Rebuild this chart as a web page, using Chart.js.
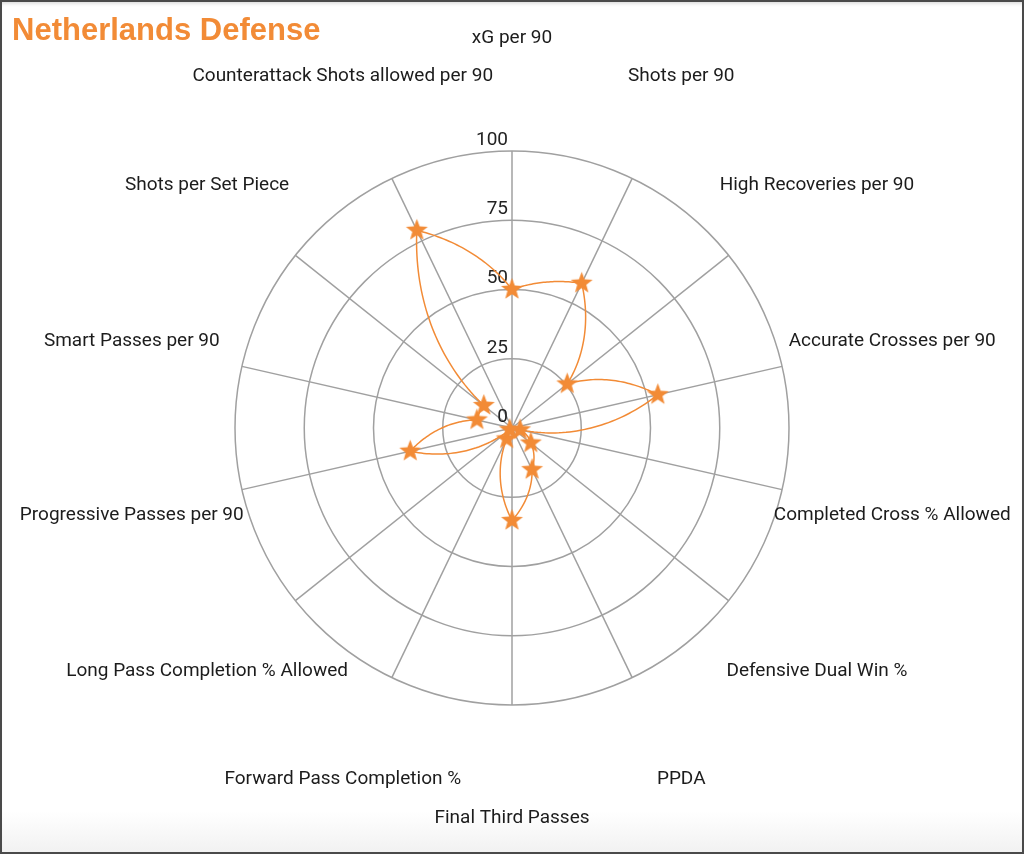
<!DOCTYPE html>
<html>
<head>
<meta charset="utf-8">
<title>Netherlands Defense</title>
<script src="https://cdn.jsdelivr.net/npm/chart.js@4.4.1/dist/chart.umd.min.js"></script>
<style>
  html, body { margin: 0; padding: 0; background: #fff; overflow: hidden; }
  #wrap {
    position: relative;
    width: 1024px;
    height: 854px;
    background: linear-gradient(to bottom, #fff 0, #fff 95%, #f1f1f1 100%);
  }
  #frame {
    position: absolute;
    inset: 0;
    border: 2px solid #4a4a4a;
    box-shadow: inset 0 4px 4px -3px rgba(0, 0, 0, 0.18);
    pointer-events: none;
  }
</style>
</head>
<body>
<div id="wrap">
  <canvas id="chart-radar"></canvas>
  <div id="frame"></div>
</div>
<script>
const metricLabels = [
  'xG per 90',
  'Shots per 90',
  'High Recoveries per 90',
  'Accurate Crosses per 90',
  'Completed Cross % Allowed',
  'Defensive Dual Win %',
  'PPDA',
  'Final Third Passes',
  'Forward Pass Completion %',
  'Long Pass Completion % Allowed',
  'Progressive Passes per 90',
  'Smart Passes per 90',
  'Shots per Set Piece',
  'Counterattack Shots allowed per 90'
];

const defenseValues = [50, 58, 25.5, 54, 3, 8.7, 16.7, 33.4, 4.4, 1, 37.7, 13, 13, 79.2];

const tickValues = [0, 25, 50, 75, 100];

const colors = {
  orange: '#f28b36',
  grid: '#a0a0a0',
  text: '#1c1c1c',
  tick: '#222222'
};

// filled five-point star, like the marker in the original
function makeStar(outer, inner) {
  const size = Math.ceil(outer * 2) + 2;
  const c = document.createElement('canvas');
  c.width = size;
  c.height = size;
  const ctx = c.getContext('2d');
  ctx.translate(size / 2, size / 2);
  ctx.beginPath();
  for (let i = 0; i < 10; i++) {
    const r = i % 2 === 0 ? outer : inner;
    const a = -Math.PI / 2 + i * Math.PI / 5;
    ctx.lineTo(r * Math.cos(a), r * Math.sin(a));
  }
  ctx.closePath();
  ctx.fillStyle = colors.orange;
  ctx.fill();
  return c;
}

// the original joins points with straight segments in polar space (spiral arcs),
// so the outline is traced along the radial scale between neighbouring spokes
const radarText = {
  id: 'radarText',
  beforeDatasetsDraw(chart) {
    const r = chart.scales.r;
    const ctx = chart.ctx;
    ctx.save();
    ctx.fillStyle = colors.tick;
    ctx.font = '19px Roboto';
    ctx.textAlign = 'right';
    ctx.textBaseline = 'middle';
    tickValues.forEach(v => {
      const d = r.getDistanceFromCenterForValue(v);
      ctx.fillText(String(v), r.xCenter - 4, r.yCenter - d - 11);
    });

    const n = defenseValues.length;
    const steps = 40;
    ctx.beginPath();
    for (let i = 0; i < n; i++) {
      const a = defenseValues[i];
      const b = defenseValues[(i + 1) % n];
      for (let s = 0; s <= steps; s++) {
        const t = s / steps;
        const p = r.getPointPosition(i + t, r.getDistanceFromCenterForValue(a + (b - a) * t));
        if (i === 0 && s === 0) ctx.moveTo(p.x, p.y);
        else ctx.lineTo(p.x, p.y);
      }
    }
    ctx.closePath();
    ctx.strokeStyle = colors.orange;
    ctx.lineWidth = 1.5;
    ctx.lineJoin = 'round';
    ctx.stroke();
    ctx.restore();
  },
  afterDraw(chart) {
    const r = chart.scales.r;
    const ctx = chart.ctx;
    ctx.save();
    ctx.fillStyle = colors.text;
    ctx.font = '19px Roboto';
    ctx.textAlign = 'center';
    ctx.textBaseline = 'middle';
    metricLabels.forEach((label, i) => {
      const p = r.getPointPosition(i, r.drawingArea + 113);
      ctx.fillText(label, p.x, p.y);
    });
    ctx.restore();
  }
};

new Chart(document.getElementById('chart-radar'), {
  type: 'radar',
  data: {
    labels: metricLabels,
    datasets: [{
      label: 'Netherlands Defense',
      data: defenseValues,
      showLine: false,
      borderColor: colors.orange,
      backgroundColor: 'transparent',
      fill: false,
      pointStyle: makeStar(11.5, 4.8),
      pointRadius: 11
    }]
  },
  options: {
    responsive: true,
    maintainAspectRatio: false,
    animation: false,
    layout: {
      padding: { left: 12, right: 12, top: 0, bottom: 149 }
    },
    plugins: {
      legend: { display: false },
      tooltip: { enabled: false },
      title: {
        display: true,
        text: 'Netherlands Defense',
        align: 'start',
        color: colors.orange,
        font: { family: '"Liberation Sans", Arial, sans-serif', size: 31, weight: 'bold' },
        padding: { top: 13, bottom: 100.8 }
      }
    },
    scales: {
      r: {
        min: 0,
        max: 100,
        ticks: { display: false, stepSize: 25 },
        pointLabels: { display: false },
        grid: { circular: true, color: colors.grid, lineWidth: 1.5 },
        angleLines: { color: colors.grid, lineWidth: 1.5 }
      }
    }
  },
  plugins: [radarText]
});
</script>
</body>
</html>
